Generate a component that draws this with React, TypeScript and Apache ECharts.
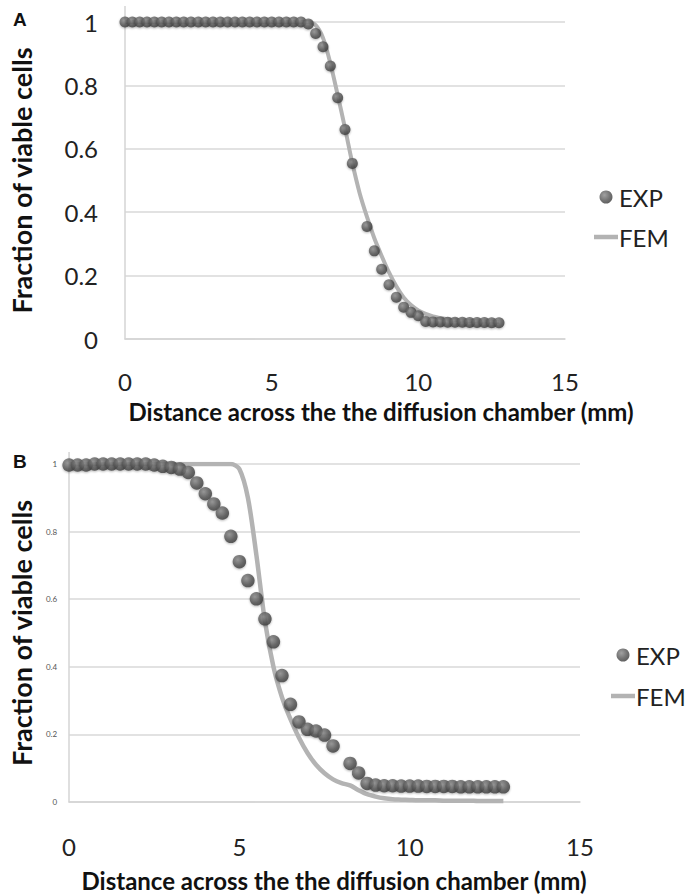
import React, { useEffect, useRef } from "react";
import * as echarts from "echarts";

const distance = [
  0, 0.25, 0.5, 0.75, 1, 1.25, 1.5, 1.75, 2, 2.25, 2.5, 2.75, 3, 3.25, 3.5, 3.75,
  4, 4.25, 4.5, 4.75, 5, 5.25, 5.5, 5.75, 6, 6.25, 6.5, 6.75, 7, 7.25, 7.5, 7.75,
  8, 8.25, 8.5, 8.75, 9, 9.25, 9.5, 9.75, 10, 10.25, 10.5, 10.75, 11, 11.25, 11.5,
  11.75, 12, 12.25, 12.5, 12.75,
];

const expA = [
  1, 1, 1, 1, 1, 1, 1, 1, 1, 1, 1, 1, 1, 1, 1, 1, 1, 1, 1, 1, 1, 1, 1, 1, 1,
  0.994, 0.964, 0.922, 0.861, 0.761, 0.661, 0.554, null, 0.355, 0.278, 0.22,
  0.171, 0.132, 0.1, 0.084, 0.073, 0.055, 0.054, 0.054, 0.053, 0.053, 0.053,
  0.052, 0.052, 0.052, 0.051, 0.051,
];

const femA = [
  1, 1, 1, 1, 1, 1, 1, 1, 1, 1, 1, 1, 1, 1, 1, 1, 1, 1, 1, 1, 1, 1, 1, 1, 1, 1,
  0.99, 0.95, 0.87, 0.77, 0.665, 0.555, 0.46, 0.385, 0.318, 0.262, 0.21, 0.166,
  0.131, 0.107, 0.09, 0.079, 0.071, 0.066, 0.062, 0.06, 0.058, 0.057, 0.056,
  0.055, 0.055, 0.054,
];

const expB = [
  0.997, 0.997, 0.997, 1, 1, 1, 1, 1, 1, 1, 0.997, 0.993, 0.99, 0.985, 0.975,
  0.944, 0.912, 0.882, 0.855, 0.786, 0.711, 0.655, 0.601, 0.542, 0.474, 0.374,
  0.289, 0.237, 0.215, 0.21, 0.198, 0.166, null, 0.114, 0.086, 0.055, 0.05,
  0.048, 0.048, 0.047, 0.047, 0.047, 0.046, 0.046, 0.046, 0.046, 0.045, 0.045,
  0.045, 0.045, 0.045, 0.045,
];

const femB = [
  1, 1, 1, 1, 1, 1, 1, 1, 1, 1, 1, 1, 1, 1, 1, 1, 1, 1, 1, 1, 0.985, 0.9, 0.73,
  0.535, 0.4, 0.31, 0.245, 0.19, 0.145, 0.11, 0.085, 0.067, 0.056, 0.049, 0.035,
  0.023, 0.016, 0.011, 0.008, 0.007, 0.006, 0.005, 0.005, 0.005, 0.004, 0.004,
  0.004, 0.004, 0.003, 0.003, 0.003, 0.003,
];

const xTicks = [0, 5, 10, 15];
const yTicks = [0, 0.2, 0.4, 0.6, 0.8, 1];
const seriesNames = ["EXP", "FEM"];
const xTitle = "Distance across the the diffusion chamber (mm)";
const yTitle = "Fraction of viable cells";
const panelLabels = ["A", "B"];

const pairs = (vals: (number | null)[]) =>
  distance
    .map((d, i) => [d, vals[i]])
    .filter((p) => p[1] !== null && p[1] !== undefined);

const FONT = "Lato, 'Open Sans', sans-serif";

const dotColor = {
  type: "radial",
  x: 0.38,
  y: 0.35,
  r: 0.7,
  colorStops: [
    { offset: 0, color: "#8a8a8a" },
    { offset: 0.6, color: "#525252" },
    { offset: 1, color: "#363636" },
  ],
};

export default function App() {
  const ref = useRef<HTMLDivElement>(null);

  useEffect(() => {
    document.body.style.margin = "0";
    const el = ref.current;
    if (!el) return;
    const chart = echarts.init(el, null, { renderer: "svg", width: 686, height: 896 });

    const xAxisBase = (gridIndex: number, margin: number, nameGap: number, padLeft: number) => ({
      type: "value",
      gridIndex,
      min: xTicks[0],
      max: xTicks[xTicks.length - 1],
      interval: 5,
      axisLine: { show: true, lineStyle: { color: "#d4d4d4", width: 1.5 } },
      axisTick: { show: false },
      splitLine: { show: false },
      axisLabel: { fontSize: 24, color: "#222", fontFamily: FONT, margin },
      name: xTitle,
      nameLocation: "middle",
      nameGap,
      nameTextStyle: {
        fontSize: 24,
        fontWeight: "bold",
        color: "#111",
        fontFamily: FONT,
        padding: [0, 0, 0, padLeft],
      },
    });

    const yAxisBase = (gridIndex: number, labelSize: number, labelColor: string, margin: number, nameGap: number) => ({
      type: "value",
      gridIndex,
      min: yTicks[0],
      max: yTicks[yTicks.length - 1],
      interval: 0.2,
      axisLine: { show: true, lineStyle: { color: "#d4d4d4", width: 1.5 } },
      axisTick: { show: false },
      splitLine: { show: true, lineStyle: { color: "#d9d9d9", width: 1.5 } },
      axisLabel: { fontSize: labelSize, color: labelColor, fontFamily: FONT, margin },
      name: yTitle,
      nameLocation: "middle",
      nameGap,
      nameTextStyle: { fontSize: 27, fontWeight: "bold", color: "#111", fontFamily: FONT },
    });

    const legendBase = (left: number, top: number, gap: number) => ({
      orient: "vertical",
      left,
      top,
      itemWidth: 24,
      itemHeight: 13,
      itemGap: gap,
      data: [
        { name: seriesNames[0], icon: "circle" },
        { name: seriesNames[1], icon: "path://M0,0 L24,0 L24,4.5 L0,4.5 Z" },
      ],
      textStyle: { fontSize: 24, color: "#222", fontFamily: FONT, padding: [0, 0, 0, -4] },
      selectedMode: false,
    });

    chart.setOption({
      animation: false,
      grid: [
        { left: 115, top: 22, width: 450, height: 317 },
        { left: 63, top: 464, width: 517, height: 338 },
      ],
      xAxis: [xAxisBase(0, 30, 60, 72), xAxisBase(1, 32, 66, 19)],
      yAxis: [yAxisBase(0, 24, "#222", 27, 90), yAxisBase(1, 8, "#555", 12, 34)],
      legend: [legendBase(589, 180, 16), legendBase(606, 638, 17)],
      series: [
        {
          name: seriesNames[1],
          type: "line",
          xAxisIndex: 0,
          yAxisIndex: 0,
          data: pairs(femA),
          symbol: "none",
          smooth: 0.3,
          lineStyle: { color: "#b3b3b3", width: 4 },
          itemStyle: { color: "#b3b3b3" },
          z: 2,
        },
        {
          name: seriesNames[0],
          type: "scatter",
          xAxisIndex: 0,
          yAxisIndex: 0,
          data: pairs(expA),
          symbol: "circle",
          symbolSize: 11,
          itemStyle: { color: dotColor, shadowBlur: 2, shadowColor: "rgba(0,0,0,0.35)", shadowOffsetY: 1 },
          z: 3,
        },
        {
          name: seriesNames[1],
          type: "line",
          xAxisIndex: 1,
          yAxisIndex: 1,
          data: pairs(femB),
          symbol: "none",
          smooth: 0.3,
          lineStyle: { color: "#b3b3b3", width: 4.5 },
          itemStyle: { color: "#b3b3b3" },
          z: 2,
        },
        {
          name: seriesNames[0],
          type: "scatter",
          xAxisIndex: 1,
          yAxisIndex: 1,
          data: pairs(expB),
          symbol: "circle",
          symbolSize: 13.5,
          itemStyle: { color: dotColor, shadowBlur: 2, shadowColor: "rgba(0,0,0,0.35)", shadowOffsetY: 1 },
          z: 3,
        },
      ],
    });

    const topA = chart.convertToPixel({ xAxisIndex: 0, yAxisIndex: 0 }, [0, 1]) as number[];
    const topB = chart.convertToPixel({ xAxisIndex: 1, yAxisIndex: 1 }, [0, 1]) as number[];

    chart.setOption({
      graphic: [
        {
          type: "line",
          shape: { x1: topA[0], y1: topA[1] - 16, x2: topA[0], y2: topA[1] },
          style: { stroke: "#d4d4d4", lineWidth: 1.5 },
        },
        {
          type: "line",
          shape: { x1: topB[0], y1: topB[1] - 12, x2: topB[0], y2: topB[1] },
          style: { stroke: "#d4d4d4", lineWidth: 1.5 },
        },
        {
          type: "text",
          left: 13,
          top: 10,
          style: { text: panelLabels[0], fontSize: 19, fontWeight: "bold", fill: "#111", fontFamily: "'Liberation Sans', Arial, sans-serif" },
        },
        {
          type: "text",
          left: 13,
          top: 452,
          style: { text: panelLabels[1], fontSize: 19, fontWeight: "bold", fill: "#111", fontFamily: "'Liberation Sans', Arial, sans-serif" },
        },
      ],
    });

    return () => chart.dispose();
  }, []);

  return <div ref={ref} style={{ width: 686, height: 896 }} />;
}
